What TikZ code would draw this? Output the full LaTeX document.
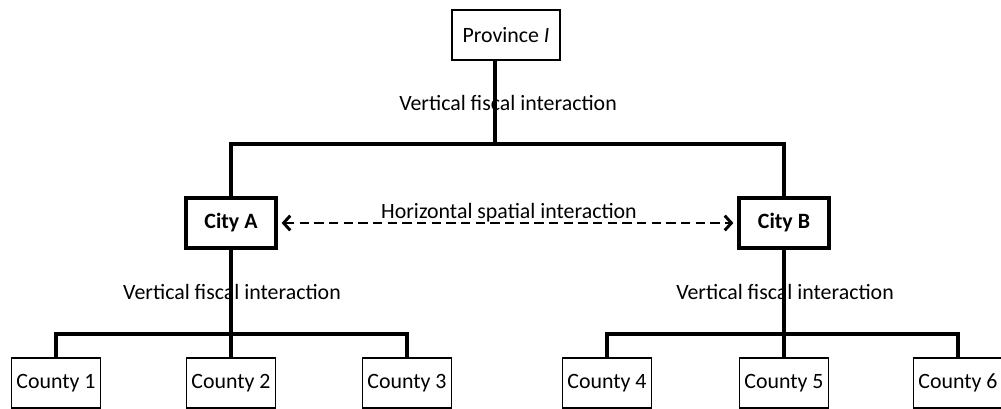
\documentclass[tikz,border=0pt]{standalone}
\usepackage{fontspec}
\setmainfont{Carlito}
\usetikzlibrary{arrows.meta}

\tikzset{
  govbox/.style={draw, line width=1pt, inner sep=0pt, minimum height=37.5pt,
    font=\fontsize{16.4}{18}\selectfont},
  citybox/.style={govbox, line width=2.4pt, minimum width=67.5pt,
    font=\fontsize{16.4}{18}\selectfont\bfseries},
  link/.style={line width=2.4pt},
  lbl/.style={inner sep=0pt, font=\fontsize{16.4}{18}\selectfont}
}

\begin{document}
\begin{tikzpicture}[x=0.75pt,y=-0.75pt]
    \useasboundingbox (0,0) rectangle (1001,409);
    \node[govbox, minimum width=81pt] (prov) at (506,35) {Province \textit{I}};
    \node[citybox] (cityA) at (231,223) {City A};
    \node[citybox] (cityB) at (784,223) {City B};
    \foreach \n/\x in {1/56,2/231,3/407,4/607,5/784,6/958}
        \node[govbox, minimum width=66.75pt] (county\n) at (\x,383) {County \n};
    \coordinate (topbar) at (495,144);
    \coordinate (barA) at (231,334);
    \coordinate (barB) at (784,334);
    \draw[link] (topbar |- prov.south) -- (topbar);
    \draw[link] (cityA.north) |- (topbar) -| (cityB.north);
    \draw[link] (cityA.south) -- (barA);
    \draw[link] (county1.north) |- (barA) -| (county3.north);
    \draw[link] (barA) -- (county2.north);
    \draw[link] (cityB.south) -- (barB);
    \draw[link] (county4.north) |- (barB) -| (county6.north);
    \draw[link] (barB) -- (county5.north);
    \draw[line width=2.2pt, dash pattern=on 7pt off 4pt,
        {Straight Barb[length=5pt,width=11pt]}-{Straight Barb[length=5pt,width=11pt]}]
        ([xshift=3pt]cityA.east) -- ([xshift=-3pt]cityB.west);
    \node[lbl] (vfTop) at (508,103) {Vertical fiscal interaction};
    \node[lbl] (vfA) at (232,292) {Vertical fiscal interaction};
    \node[lbl] (vfB) at (785,292) {Vertical fiscal interaction};
    \node[lbl] (hsi) at (509,213) {Horizontal spatial interaction};
\end{tikzpicture}
\end{document}
